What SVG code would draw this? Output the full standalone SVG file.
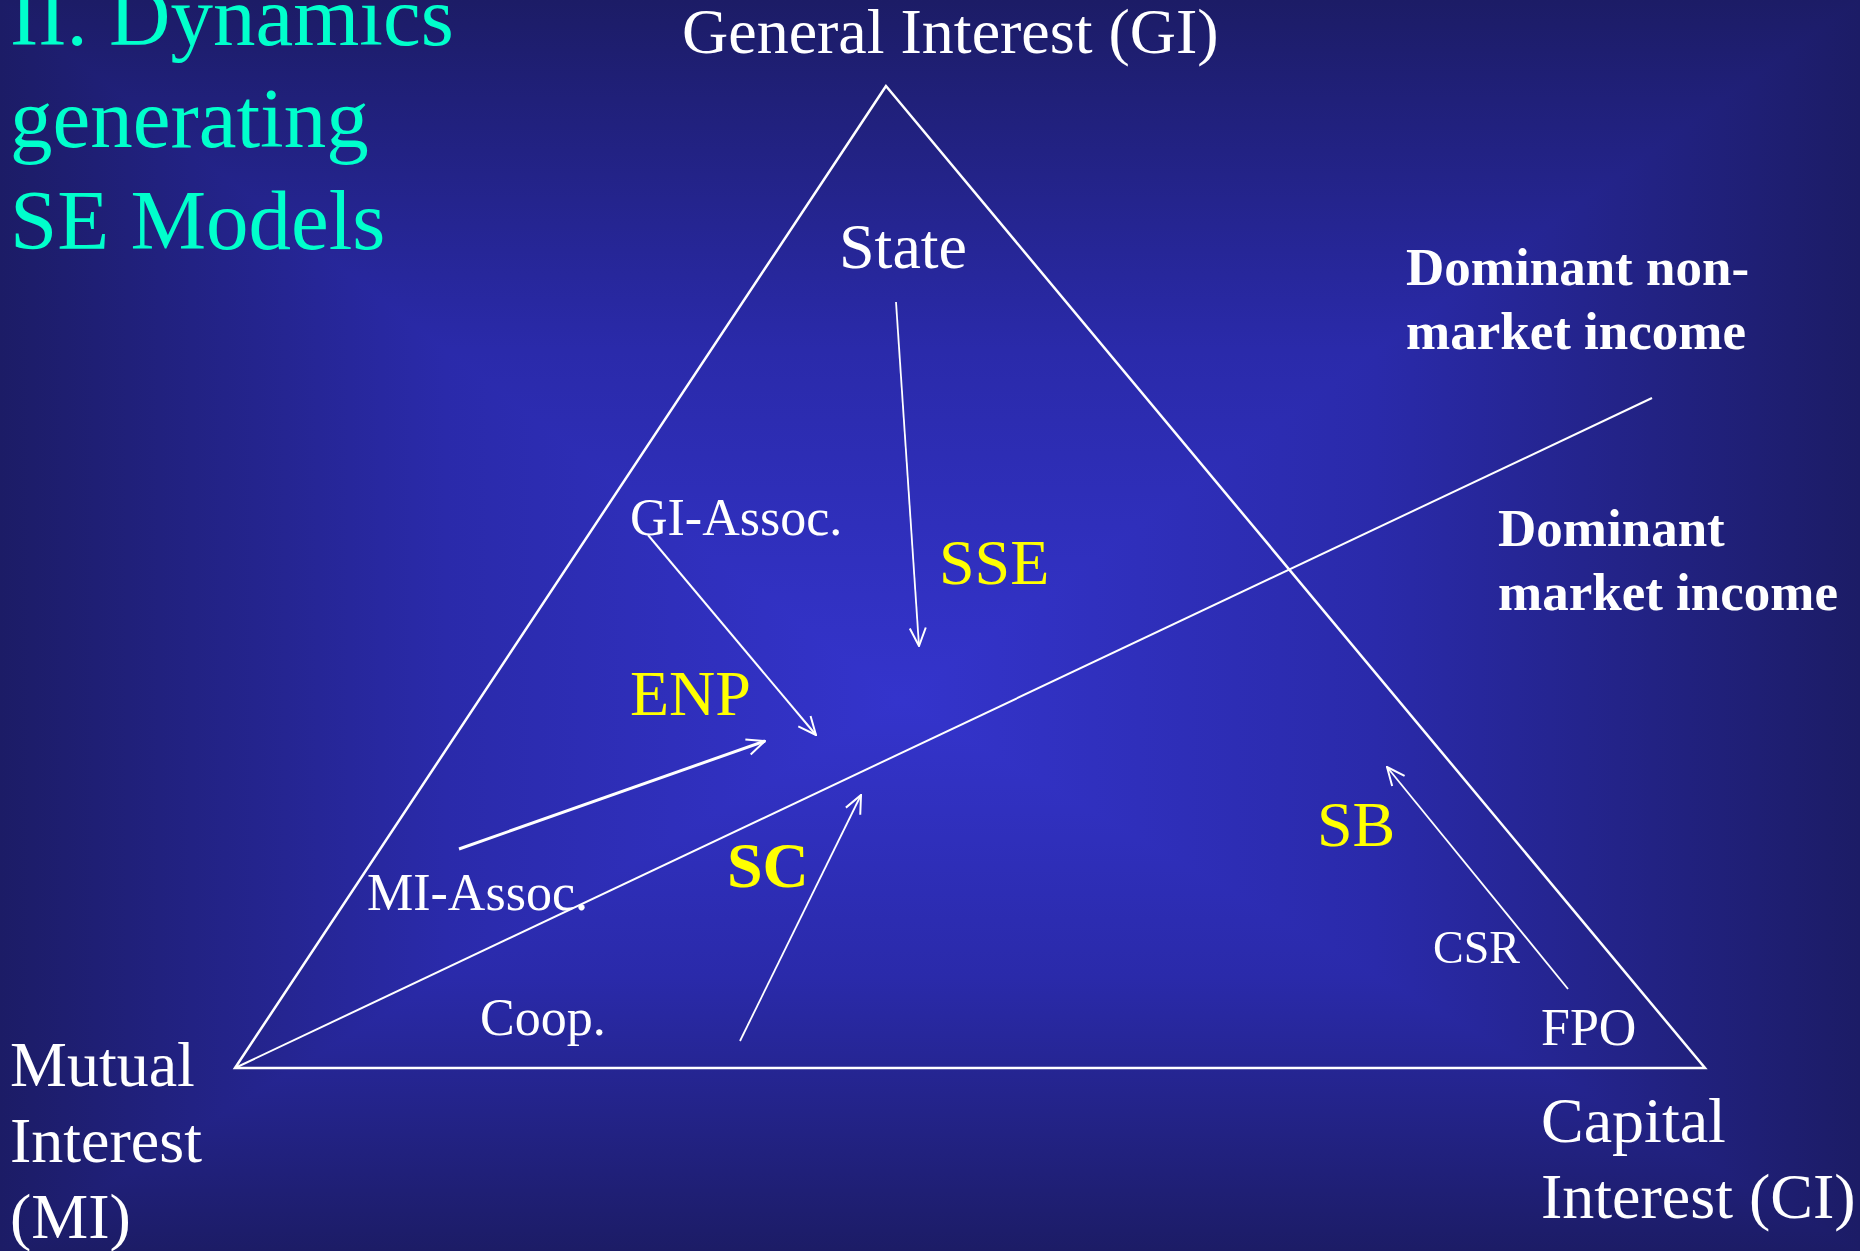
<svg xmlns="http://www.w3.org/2000/svg" width="1860" height="1251" viewBox="0 0 1860 1251">
  <defs>
    <linearGradient id="gh" x1="0" y1="0" x2="1860" y2="0" gradientUnits="userSpaceOnUse">
      <stop offset="0" stop-color="#1C1C66"/>
      <stop offset="0.24" stop-color="#2A2AAA"/>
      <stop offset="0.484" stop-color="#3434CC"/>
      <stop offset="0.74" stop-color="#2A2AAA"/>
      <stop offset="1" stop-color="#1C1C66"/>
    </linearGradient>
    <linearGradient id="gv" x1="0" y1="0" x2="0" y2="1251" gradientUnits="userSpaceOnUse">
      <stop offset="0" stop-color="#1C1C66"/>
      <stop offset="0.28" stop-color="#2A2AAA"/>
      <stop offset="0.56" stop-color="#3434CC"/>
      <stop offset="0.78" stop-color="#2A2AAA"/>
      <stop offset="1" stop-color="#1C1C66"/>
    </linearGradient>
    <marker id="arr" viewBox="0 0 20 20" refX="19" refY="10" markerWidth="20" markerHeight="20" orient="auto" markerUnits="userSpaceOnUse">
      <path d="M1,2 L19,10 L1,18" fill="none" stroke="#ffffff" stroke-width="2"/>
    </marker>
    <style>
      .t { font-family: "Liberation Serif", "Times New Roman", serif; fill: #ffffff; }
      .title { font-family: "Liberation Serif", "Times New Roman", serif; fill: #00FFCC; font-size: 85px; }
      .y { font-family: "Liberation Serif", "Times New Roman", serif; fill: #FFFF00; font-size: 64px; }
      .b { font-weight: bold; }
      .ln { stroke: #ffffff; fill: none; }
      .ar { stroke: #ffffff; fill: none; marker-end: url(#arr); }
    </style>
  </defs>

  <g id="background">
    <rect x="0" y="0" width="1860" height="1251" fill="url(#gh)"/>
    <rect x="0" y="0" width="1860" height="1251" fill="url(#gv)" style="mix-blend-mode: darken"/>
  </g>

  <g id="title">
    <text class="title" x="10" y="45">II. Dynamics</text>
    <text class="title" x="10" y="147">generating</text>
    <text class="title" x="10" y="249">SE Models</text>
  </g>

  <g id="connectors">
    <polygon class="ln" points="886,86 235,1068 1705,1068" stroke-width="2.5"/>
    <line class="ln" x1="235" y1="1068" x2="1652" y2="398" stroke-width="2"/>
    <line class="ar" x1="896" y1="302" x2="919" y2="646" stroke-width="1.8"/>
    <line class="ar" x1="648" y1="535" x2="816" y2="735" stroke-width="2"/>
    <line class="ar" x1="459" y1="849" x2="765" y2="741" stroke-width="3"/>
    <line class="ar" x1="740" y1="1041" x2="861" y2="795" stroke-width="1.8"/>
    <line class="ar" x1="1568" y1="989" x2="1387" y2="767" stroke-width="1.8"/>
  </g>

  <g id="node-GI">
    <text class="t" x="682" y="53" font-size="64">General Interest (GI)</text>
  </g>
  <g id="node-MI">
    <text class="t" x="10" y="1086" font-size="64">Mutual</text>
    <text class="t" x="10" y="1162" font-size="64">Interest</text>
    <text class="t" x="10" y="1238" font-size="64">(MI)</text>
  </g>
  <g id="node-CI">
    <text class="t" x="1541" y="1142" font-size="64">Capital</text>
    <text class="t" x="1541" y="1218" font-size="64">Interest (CI)</text>
  </g>
  <g id="node-state">
    <text class="t" x="839" y="268" font-size="64">State</text>
  </g>
  <g id="node-gi-assoc">
    <text class="t" x="630" y="535" font-size="52">GI-Assoc.</text>
  </g>
  <g id="node-mi-assoc">
    <text class="t" x="367" y="910" font-size="52">MI-Assoc.</text>
  </g>
  <g id="node-coop">
    <text class="t" x="480" y="1035" font-size="52">Coop.</text>
  </g>
  <g id="node-csr">
    <text class="t" x="1433" y="963" font-size="46">CSR</text>
  </g>
  <g id="node-fpo">
    <text class="t" x="1541" y="1045" font-size="52">FPO</text>
  </g>
  <g id="node-sse">
    <text class="y" x="939" y="584">SSE</text>
  </g>
  <g id="node-enp">
    <text class="y" x="630" y="715">ENP</text>
  </g>
  <g id="node-sc">
    <text class="y b" x="727" y="887">SC</text>
  </g>
  <g id="node-sb">
    <text class="y" x="1317" y="846" font-size="60">SB</text>
  </g>
  <g id="node-nonmarket">
    <text class="t b" x="1406" y="285" font-size="53">Dominant non-</text>
    <text class="t b" x="1406" y="349" font-size="53">market income</text>
  </g>
  <g id="node-market">
    <text class="t b" x="1498" y="546" font-size="53">Dominant</text>
    <text class="t b" x="1498" y="610" font-size="53">market income</text>
  </g>
</svg>
